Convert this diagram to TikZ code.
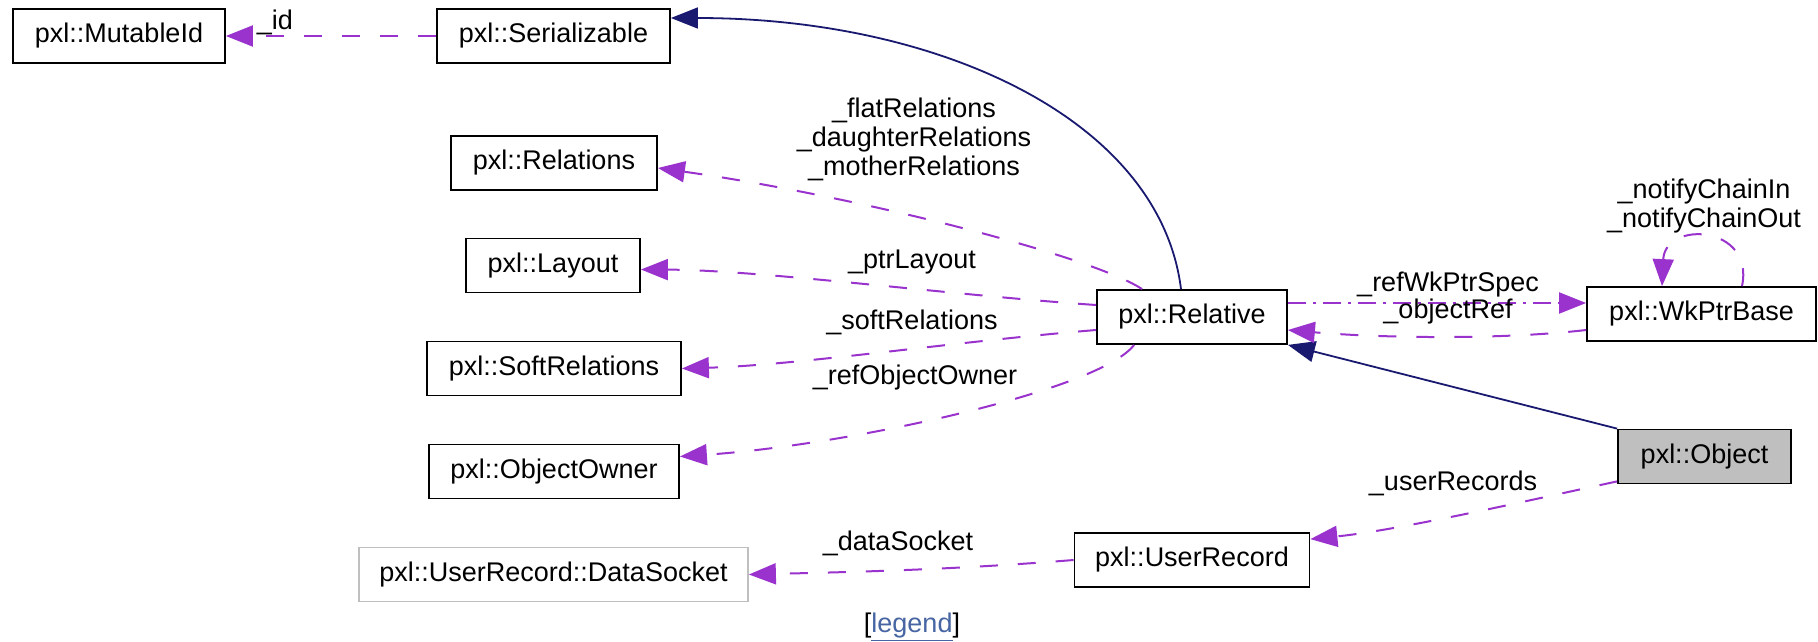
\documentclass[tikz,border=0pt]{standalone}
\usepackage{fontspec}
\setmainfont{Liberation Sans}
\usetikzlibrary{arrows.meta,calc}
\definecolor{usecol}{HTML}{9A32CD}
\definecolor{inhcol}{HTML}{191970}
\definecolor{fillgray}{HTML}{BFBFBF}
\definecolor{linkcol}{HTML}{4665A2}
\begin{document}
\begin{tikzpicture}[x=1pt,y=-1pt,
  cls/.style={draw=black, line width=1.8pt, fill=white, minimum height=54pt,
    inner sep=0pt, font=\fontsize{27}{32}\selectfont},
  lbl/.style={inner sep=0pt, align=center, font=\fontsize{27}{29}\selectfont},
  usage/.style={draw=usecol, line width=2pt, dash pattern=on 18pt off 20pt,
    -{Triangle[length=27pt,width=21pt]}},
  ddline/.style={dash pattern=on 18pt off 7pt on 3pt off 7pt},
  inherit/.style={draw=inhcol, line width=1.8pt, -{Triangle[length=27pt,width=21pt]}}]
\useasboundingbox (0,0) rectangle (1818,641);

% classes
\node[cls, minimum width=212pt] (mut)  at (119,36)      {pxl::MutableId};
\node[cls, minimum width=233pt] (ser)  at (553.5,36)    {pxl::Serializable};
\node[cls, minimum width=206pt] (rels) at (554,163)     {pxl::Relations};
\node[cls, minimum width=174pt] (lay)  at (553,265.5)   {pxl::Layout};
\node[cls, minimum width=254pt] (soft) at (554,368.5)   {pxl::SoftRelations};
\node[cls, minimum width=250pt] (own)  at (554,471.5)   {pxl::ObjectOwner};
\node[cls, minimum width=389pt, draw=fillgray] (ds) at (553.5,574.5) {pxl::UserRecord::DataSocket};
\node[cls, minimum width=190pt] (rel)  at (1192,317)    {pxl::Relative};
\node[cls, minimum width=229pt] (wk)   at (1701.5,314)  {pxl::WkPtrBase};
\node[cls, minimum width=173pt, fill=fillgray] (obj) at (1704.5,456.5) {pxl::Object};
\node[cls, minimum width=235pt] (ur)   at (1192,560)    {pxl::UserRecord};

% inheritance
\draw[inherit] ($(rel.north)+(-11,0)$) .. controls (1160,120) and (940,18) .. ($(ser.east)+(0,-18)$);
\draw[inherit] (obj.north west) -- (rel.south east);

% usage relations
\draw[usage] (ser.west) -- (mut.east);
\draw[usage] ($(rel.north west)+(46,0)$) .. controls (1090,255) and (850,195) .. ($(rels.east)+(0,5)$);
\draw[usage] ($(rel.west)+(0,-12)$) .. controls (950,295) and (760,270) .. ($(lay.east)+(0,4)$);
\draw[usage] ($(rel.west)+(0,13)$) .. controls (950,342) and (800,365) .. (soft.east);
\draw[usage] ($(rel.south west)+(38,0)$) .. controls (1100,390) and (850,445) .. ($(own.east)+(0,-15)$);
\draw[usage, ddline] ($(rel.east)+(0,-14)$) -- ($(wk.west)+(0,-11)$);
\draw[usage] ($(wk.west)+(0,16)$) .. controls (1500,340) and (1380,338) .. ($(rel.east)+(0,13)$);
\draw[usage] ($(wk.north)+(40.5,0)$) .. controls (1755,225) and (1665,220) .. ($(wk.north)+(-39.5,0)$);
\draw[usage] ($(obj.south west)+(0,-3)$) .. controls (1530,500) and (1400,530) .. ($(ur.north east)+(0,7)$);
\draw[usage] (ur.west) .. controls (950,570) and (850,572) .. (ds.east);

% edge labels
\node[lbl] (lid)     at (275,22)   {\_id};
\node[lbl] (lrels)   at (914,139)  {\_flatRelations\\\_daughterRelations\\\_motherRelations};
\node[lbl] (lptr)    at (912,262)  {\_ptrLayout};
\node[lbl] (lsoft)   at (912,322)  {\_softRelations};
\node[lbl] (lown)    at (915,378)  {\_refObjectOwner};
\node[lbl] (lwk)     at (1448,285) {\_refWkPtrSpec};
\node[lbl] (lobjref) at (1448,312) {\_objectRef};
\node[lbl] (lnotify) at (1704,206) {\_notifyChainIn\\\_notifyChainOut};
\node[lbl] (lur)     at (1453,483) {\_userRecords};
\node[lbl] (lds)     at (898,543)  {\_dataSocket};

% legend link
\node[lbl] (legend) at (912,627) {[\textcolor{linkcol}{\underline{legend}}]};
\end{tikzpicture}
\end{document}
